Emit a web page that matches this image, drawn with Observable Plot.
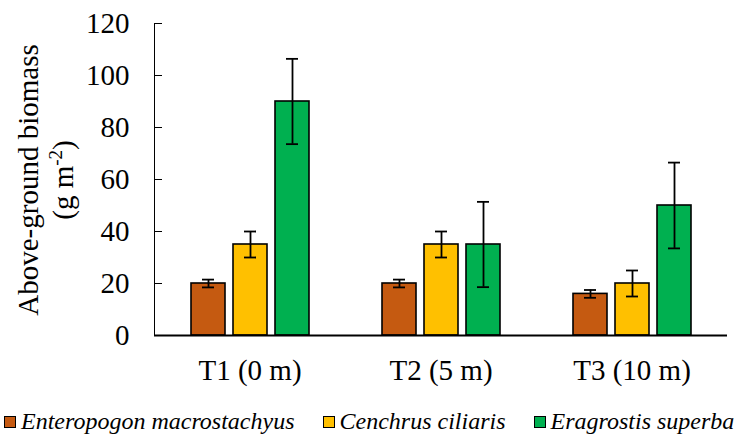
<!DOCTYPE html>
<html>
<head>
<meta charset="utf-8">
<script src="https://cdn.jsdelivr.net/npm/d3@7"></script>
<script src="https://cdn.jsdelivr.net/npm/@observablehq/plot@0.6"></script>
<style>
  html, body { margin: 0; padding: 0; background: #fff; }
  #chart { width: 752px; height: 437px; position: relative; font-family: 'Times New Roman', Times, 'Liberation Serif', 'Nimbus Roman', 'Noto Serif', 'DejaVu Serif', FreeSerif, serif; }
  #chart svg, #chart svg text { font-family: 'Times New Roman', Times, 'Liberation Serif', 'Nimbus Roman', 'Noto Serif', 'DejaVu Serif', FreeSerif, serif !important; }
  .legend { display: flex; align-items: center; height: 32px; padding-left: 4px; font-style: italic; font-size: 24px; color: #000; white-space: nowrap; }
  .legend .item { display: flex; align-items: center; margin-right: 28px; flex-shrink: 0; }
  .legend .sw { width: 10px; height: 10px; border: 1.5px solid #000; margin-right: 5px; margin-top: 2px; flex-shrink: 0; }
</style>
</head>
<body>
<div id="chart"></div>
<script>
const groups = ["T1 (0 m)", "T2 (5 m)", "T3 (10 m)"];
const species = ["Enteropogon macrostachyus", "Cenchrus ciliaris", "Eragrostis superba"];
const colors = ["#C55A11", "#FFC000", "#00B050"];
const meanEnteropogon = [20, 20, 16];
const meanCenchrus = [35, 35, 20];
const meanEragrostis = [90, 35, 50];
const errEnteropogon = [1.5, 1.5, 1.5];
const errCenchrus = [5, 5, 5];
const errEragrostis = [16.4, 16.4, 16.5];
const yTicks = [0, 20, 40, 60, 80, 100, 120];

const means = [meanEnteropogon, meanCenchrus, meanEragrostis];
const errs = [errEnteropogon, errCenchrus, errEragrostis];
const data = [];
groups.forEach((g, gi) => species.forEach((s, si) => {
  data.push({group: g, species: s, value: means[si][gi], err: errs[si][gi]});
}));

const FONT = "'Times New Roman', Times, 'Liberation Serif', 'Nimbus Roman', 'Noto Serif', 'DejaVu Serif', FreeSerif, serif";

const plot = Plot.plot({
  width: 752,
  height: 405,
  marginLeft: 153,
  marginRight: 24,
  marginTop: 23,
  marginBottom: 70,
  style: {fontFamily: FONT, fontSize: "29px", color: "#000", background: "#fff"},
  fx: {domain: groups, padding: 0, axis: "bottom", tickSize: 0, tickPadding: 24, label: null},
  x: {domain: species, paddingInner: 0.2, paddingOuter: 0.86, axis: null},
  y: {domain: [0, 120], ticks: yTicks, tickSize: -8, tickPadding: 33, line: true, label: null},
  color: {domain: species, range: colors},
  marks: [
    Plot.barY(data, {fx: "group", x: "species", y: "value", fill: "species", stroke: "#000", strokeWidth: 1.6}),
    Plot.ruleX(data, {fx: "group", x: "species", y1: d => d.value - d.err, y2: d => d.value + d.err, stroke: "#000", strokeWidth: 1.8}),
    Plot.tickY(data, {fx: "group", x: "species", y: d => d.value + d.err, insetLeft: 11, insetRight: 11, stroke: "#000", strokeWidth: 1.8}),
    Plot.tickY(data, {fx: "group", x: "species", y: d => d.value - d.err, insetLeft: 11, insetRight: 11, stroke: "#000", strokeWidth: 1.8}),
    Plot.ruleY([0], {stroke: "#000", strokeWidth: 2})
  ]
});

// y-axis title (two lines, with superscript)
const svg = d3.select(plot);
svg.append("text")
  .attr("transform", "translate(38,180) rotate(-90)")
  .attr("text-anchor", "middle")
  .attr("font-size", 29)
  .attr("fill", "#000")
  .text("Above-ground biomass");
const t2 = svg.append("text")
  .attr("transform", "translate(73,180) rotate(-90)")
  .attr("text-anchor", "middle")
  .attr("font-size", 29)
  .attr("fill", "#000");
t2.append("tspan").text("(g m");
t2.append("tspan").attr("font-size", 19).attr("dy", -11).text("-2");
t2.append("tspan").attr("dy", 11).text(")");

const root = document.getElementById("chart");
root.appendChild(plot);

const legend = document.createElement("div");
legend.className = "legend";
species.forEach((s, i) => {
  const item = document.createElement("div");
  item.className = "item";
  const sw = document.createElement("span");
  sw.className = "sw";
  sw.style.background = colors[i];
  const lab = document.createElement("span");
  lab.textContent = s;
  item.appendChild(sw);
  item.appendChild(lab);
  legend.appendChild(item);
});
root.appendChild(legend);
</script>
</body>
</html>
